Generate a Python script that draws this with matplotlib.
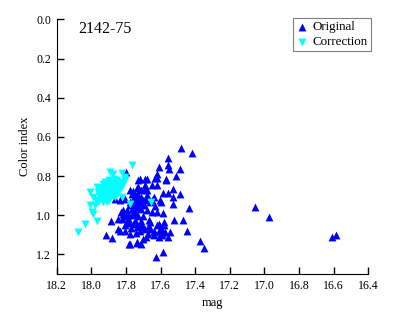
import matplotlib
matplotlib.use("Agg")
import matplotlib.pyplot as plt

plt.rcParams['font.family'] = ['Liberation Serif', 'DejaVu Serif']

# Original (blue up-triangles): mag, color index
orig_mag = [17.48, 17.42, 17.555, 17.61, 17.555, 17.55, 17.49, 17.51, 17.57, 17.62,
            17.63, 17.73, 17.69, 17.80, 17.776, 17.735, 17.69, 17.676, 17.62, 17.65,
            17.526, 17.584, 17.555, 17.49, 17.526, 17.53, 17.433, 17.584, 17.52, 17.47,
            17.449, 17.372, 17.349, 17.584, 17.626, 17.78, 17.734, 17.71, 17.684, 17.88,
            17.915, 17.888, 17.844, 17.834, 17.805, 17.776, 17.74, 17.69, 17.665, 17.64,
            17.61, 17.593, 17.574, 17.545, 17.58, 17.61, 17.665, 17.70, 17.73, 17.757,
            17.786, 17.815, 17.795, 17.766, 17.73, 17.71, 17.65, 17.62, 17.776, 17.737,
            17.684, 17.65, 17.60, 17.753, 17.715, 17.676, 17.64, 17.805, 17.834, 17.863,
            17.737, 17.71, 17.757, 17.786, 17.757, 17.805, 17.737, 17.71, 17.676, 17.632,
            17.70, 17.718, 17.745, 17.76, 17.725, 17.695, 17.75, 17.78, 17.77, 17.74,
            17.70, 17.72, 17.79, 17.76, 17.66, 17.64, 17.60, 17.59, 17.80, 17.83,
            17.718, 17.68, 17.62, 17.57, 17.73, 17.69, 17.766, 17.73, 17.70, 17.661,
            17.603, 17.747, 17.776, 17.73, 17.815, 17.757, 17.786, 17.747, 17.825, 17.71,
            17.661, 17.62, 17.593, 17.64, 17.58, 17.844, 17.776, 17.737, 17.70, 17.67,
            17.61, 17.555,
            17.054, 16.973, 16.61, 16.586]
orig_ci = [0.657, 0.682, 0.706, 0.754, 0.745, 0.762, 0.762, 0.80, 0.818, 0.79,
           0.808, 0.818, 0.813, 0.78, 0.87, 0.86, 0.848, 0.873, 0.848, 0.845,
           0.865, 0.887, 0.887, 0.89, 0.907, 0.945, 0.962, 0.99, 1.023, 1.023,
           1.078, 1.132, 1.166, 1.189, 1.214, 1.149, 1.143, 1.149, 1.112, 1.115,
           1.103, 1.027, 1.018, 1.078, 1.078, 1.095, 1.092, 1.069, 1.057, 1.078,
           1.081, 1.092, 1.086, 1.086, 1.052, 1.047, 1.023, 1.006, 1.006, 1.001,
           1.001, 0.992, 0.975, 0.967, 0.958, 0.967, 0.984, 0.984, 0.933, 0.924,
           0.924, 0.924, 0.933, 0.907, 0.907, 0.899, 0.907, 0.916, 0.924, 0.916,
           0.89, 0.873, 0.877, 1.027, 1.043, 1.052, 1.061, 1.027, 0.975, 0.955,
           0.94, 0.93, 0.94, 0.95, 0.96, 0.95, 0.98, 1.04, 1.065, 1.035,
           1.06, 1.08, 1.015, 0.99, 1.07, 1.10, 1.065, 1.10, 1.005, 0.985,
           0.813, 0.817, 0.81, 0.817, 0.856, 0.864, 0.89, 0.899, 0.924, 0.933,
           0.924, 0.933, 0.95, 0.958, 0.975, 0.984, 1.018, 1.027, 1.018, 1.052,
           1.035, 1.052, 1.078, 1.087, 1.035, 1.069, 1.146, 1.138, 1.12, 1.095,
           1.112, 1.112,
           0.958, 1.01, 1.112, 1.10]

# Correction (cyan down-triangles)
corr_mag = [17.763, 17.892, 17.82, 17.805, 17.853, 17.968, 17.93, 17.94, 17.91, 17.88,
            17.863, 17.834, 18.007, 17.988, 17.95, 17.91, 17.892, 17.873, 17.844, 17.96,
            17.93, 17.90, 17.979, 18.007, 17.998, 17.988, 17.968, 18.036, 18.075, 17.824,
            17.776, 17.96, 17.921, 17.896, 17.655, 17.805, 17.873, 17.87, 17.885, 17.905,
            17.92, 17.935, 17.86, 17.85, 17.875, 17.895, 17.915, 17.94, 17.955, 17.88,
            17.865, 17.85, 17.84, 17.905, 17.925, 17.945, 17.89, 17.87, 17.83, 17.815,
            17.955, 17.975, 17.91, 17.86, 17.9]
corr_ci = [0.745, 0.78, 0.785, 0.805, 0.818, 0.856, 0.839, 0.873, 0.864, 0.856,
           0.839, 0.831, 0.882, 0.907, 0.907, 0.899, 0.89, 0.882, 0.873, 0.933,
           0.933, 0.924, 0.95, 0.95, 0.984, 0.992, 1.027, 1.043, 1.087, 0.907,
           0.941, 0.882, 0.831, 0.822, 0.933, 0.822, 0.788, 0.86, 0.87, 0.88,
           0.89, 0.895, 0.85, 0.86, 0.9, 0.91, 0.915, 0.92, 0.895, 0.845,
           0.905, 0.89, 0.85, 0.845, 0.86, 0.875, 0.835, 0.815, 0.86, 0.84,
           0.86, 0.92, 0.93, 0.87, 0.9]

fig = plt.figure(figsize=(3.99, 3.22), dpi=100)
ax = fig.add_axes([0.142, 0.149, 0.781, 0.791])

ax.scatter(orig_mag, orig_ci, marker='^', s=32, c='#0000ff', linewidths=0, label='Original')
ax.scatter(corr_mag, corr_ci, marker='v', s=32, c='#00ffff', linewidths=0, label='Correction')

ax.set_xlim(18.2, 16.4)
ax.set_ylim(1.3, 0.0)
ax.set_xticks([18.2, 18.0, 17.8, 17.6, 17.4, 17.2, 17.0, 16.8, 16.6, 16.4])
ax.set_yticks([0.0, 0.2, 0.4, 0.6, 0.8, 1.0, 1.2])
ax.xaxis.set_major_formatter(matplotlib.ticker.FormatStrFormatter('%.1f'))
ax.yaxis.set_major_formatter(matplotlib.ticker.FormatStrFormatter('%.1f'))
ax.spines['top'].set_visible(False)
ax.spines['right'].set_visible(False)
ax.tick_params(direction='in', length=5, width=1, labelsize=8.6, pad=4)
ax.set_xlabel('mag', fontsize=9)
ax.set_ylabel('Color index', fontsize=9, labelpad=4)

ax.text(0.07, 0.962, '2142-75', transform=ax.transAxes, fontsize=11.5, va='center', ha='left')

leg = ax.legend(loc='upper right', bbox_to_anchor=(1.008, 1.005), fontsize=9.4, scatterpoints=1,
                fancybox=False, edgecolor='gray', framealpha=1, borderpad=0.25,
                handlelength=0.8, handletextpad=0.4, labelspacing=0.2, borderaxespad=0)
leg.get_frame().set_linewidth(0.8)

fig.savefig('out.png', dpi=100)
